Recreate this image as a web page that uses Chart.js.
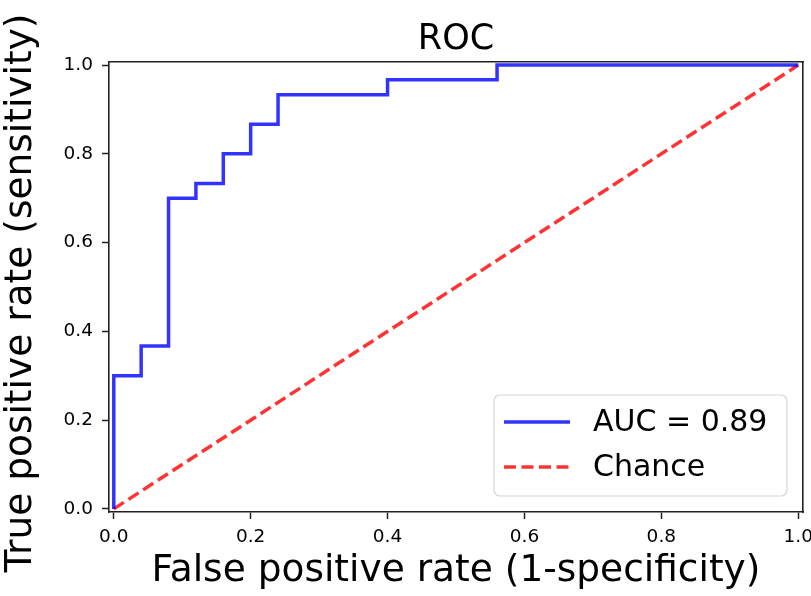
<!DOCTYPE html>
<html>
<head>
<meta charset="utf-8">
<script src="https://cdn.jsdelivr.net/npm/chart.js@4"></script>
<style>
  html, body { margin: 0; padding: 0; background: #fff; }
  #wrap { width: 811px; height: 596px; }
</style>
</head>
<body>
<div id="wrap"><canvas id="roc" width="811" height="596"></canvas></div>
<script>
// ROC curve points (false positive rate, true positive rate)
const fpr = [0, 0, 0.04, 0.04, 0.08, 0.08, 0.12, 0.12, 0.16, 0.16, 0.2, 0.2, 0.24, 0.24, 0.4, 0.4, 0.56, 0.56, 1.0];
const tpr = [0, 0.3, 0.3, 0.367, 0.367, 0.7, 0.7, 0.733, 0.733, 0.8, 0.8, 0.867, 0.867, 0.933, 0.933, 0.967, 0.967, 1.0, 1.0];
// chance diagonal
const chanceX = [0, 1];
const chanceY = [0, 1];
const tickValues = [0, 0.2, 0.4, 0.6, 0.8, 1.0];
const labels = ["AUC = 0.89", "Chance"];

Chart.defaults.font.family = "'DejaVu Sans', sans-serif";
Chart.defaults.color = "#000";

function toPoints(xs, ys) {
    return xs.map((x, i) => ({ x: x, y: ys[i] }));
}

// legend box drawn inside the plot, lower right
const legendBox = {
    id: "legendBox",
    afterDraw(chart) {
        const ctx = chart.ctx;
        const left = 494, top = 395, w = 293, h = 101;
        ctx.save();
        ctx.beginPath();
        ctx.roundRect(left, top, w, h, 6);
        ctx.fillStyle = "rgba(255,255,255,0.8)";
        ctx.fill();
        ctx.strokeStyle = "#d6d6d6";
        ctx.lineWidth = 1.2;
        ctx.stroke();
        const rows = [422, 467];
        chart.data.datasets.forEach((ds, i) => {
            ctx.beginPath();
            ctx.strokeStyle = ds.borderColor;
            ctx.lineWidth = ds.borderWidth;
            ctx.setLineDash(ds.borderDash || []);
            ctx.moveTo(504, rows[i]);
            ctx.lineTo(570, rows[i]);
            ctx.stroke();
            ctx.setLineDash([]);
            ctx.fillStyle = "#000";
            ctx.font = "30px 'DejaVu Sans'";
            ctx.textBaseline = "middle";
            ctx.fillText(ds.label, 593, rows[i] + 1);
        });
        ctx.restore();
    }
};

const ctx = document.getElementById("roc").getContext("2d");
new Chart(ctx, {
    type: "scatter",
    data: {
        datasets: [
            {
                label: labels[0],
                data: toPoints(fpr, tpr),
                showLine: true,
                borderColor: "rgba(0,0,255,0.8)",
                borderWidth: 3.5,
                pointRadius: 0,
                tension: 0
            },
            {
                label: labels[1],
                data: toPoints(chanceX, chanceY),
                showLine: true,
                borderColor: "rgba(255,0,0,0.8)",
                borderWidth: 3.5,
                borderDash: [12, 5.5],
                pointRadius: 0
            }
        ]
    },
    options: {
        responsive: false,
        animation: false,
        layout: { padding: 0 },
        plugins: {
            legend: { display: false },
            tooltip: { enabled: false }
        },
        scales: {
            x: {
                type: "linear",
                position: "bottom",
                min: -0.007,
                max: 1.007,
                afterBuildTicks(axis) { axis.ticks = tickValues.map(v => ({ value: v })); },
                afterFit(axis) {
                    axis.height = 84;
                    axis.paddingLeft = 0;
                    axis.paddingRight = 0;
                },
                ticks: {
                    font: { size: 18.5 },
                    padding: 7,
                    maxRotation: 0,
                    callback: v => v.toFixed(1)
                },
                grid: { display: true, drawOnChartArea: false, tickLength: 7, tickWidth: 1.5, tickColor: "#222" },
                border: { display: true, color: "#222", width: 1.6 },
                title: {
                    display: true,
                    text: "False positive rate (1-specificity)",
                    font: { size: 37.5, lineHeight: 1 },
                    padding: { top: 0, bottom: 5.5 }
                }
            },
            y: {
                type: "linear",
                position: "left",
                min: -0.007,
                max: 1.007,
                afterBuildTicks(axis) { axis.ticks = tickValues.map(v => ({ value: v })); },
                afterFit(axis) {
                    axis.width = 109;
                    axis.paddingTop = 0;
                    axis.paddingBottom = 0;
                },
                ticks: {
                    font: { size: 18.5 },
                    padding: 9,
                    callback: v => v.toFixed(1)
                },
                grid: { display: true, drawOnChartArea: false, tickLength: 7, tickWidth: 1.5, tickColor: "#222" },
                border: { display: true, color: "#222", width: 1.6 },
                title: {
                    display: true,
                    text: "True positive rate (sensitivity) ",
                    font: { size: 37.5, lineHeight: 1 },
                    padding: { top: 3, bottom: 0 }
                }
            },
            x2: {
                type: "linear",
                position: "top",
                min: -0.007,
                max: 1.007,
                afterFit(axis) {
                    axis.height = 62;
                    axis.paddingLeft = 0;
                    axis.paddingRight = 0;
                },
                ticks: { display: false },
                grid: { display: false },
                border: { display: true, color: "#222", width: 1.6 },
                title: {
                    display: true,
                    text: "ROC",
                    font: { size: 35, lineHeight: 1 },
                    padding: { top: 22, bottom: 0 }
                }
            },
            y2: {
                type: "linear",
                position: "right",
                min: -0.007,
                max: 1.007,
                afterFit(axis) {
                    axis.width = 8;
                    axis.paddingTop = 0;
                    axis.paddingBottom = 0;
                },
                ticks: { display: false },
                grid: { display: false },
                border: { display: true, color: "#222", width: 1.6 }
            }
        }
    },
    plugins: [legendBox]
});
</script>
</body>
</html>
